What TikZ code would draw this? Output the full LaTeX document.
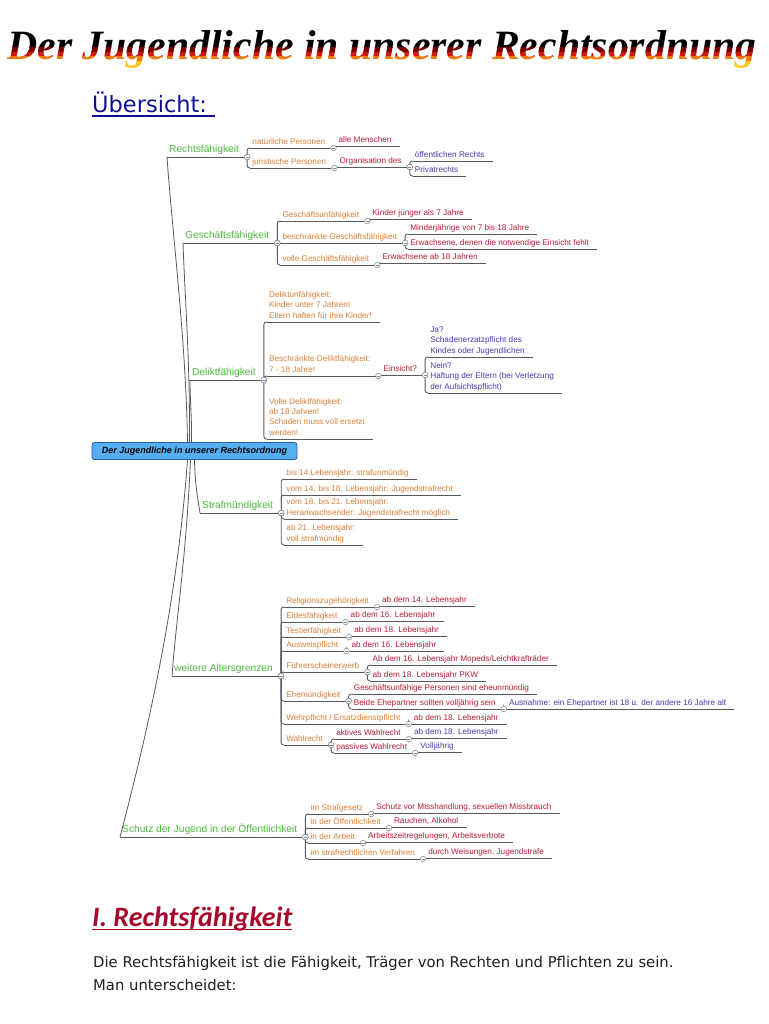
\documentclass[tikz,border=0pt]{standalone}
\usepackage{graphicx}
\usepackage{fontspec}
\setmainfont{Liberation Sans}
\newfontfamily\bannerfont{Liberation Serif}
\newfontfamily\pagefont{DejaVu Sans}
\newfontfamily\headingfont{Carlito}
\usepackage{tikz}
\definecolor{mmgreen}{RGB}{78,186,62}
\definecolor{mmorange}{RGB}{222,128,56}
\definecolor{mmred}{RGB}{188,28,58}
\definecolor{mmblue}{RGB}{72,62,178}
\definecolor{linegray}{RGB}{88,88,88}
\definecolor{knobgray}{RGB}{128,138,150}
\definecolor{rootfill}{RGB}{86,174,240}
\definecolor{rootedge}{RGB}{36,96,170}
\definecolor{headblue}{RGB}{16,16,150}
\definecolor{headred}{RGB}{166,8,42}
\definecolor{titdark}{RGB}{120,0,0}
\definecolor{titred}{RGB}{205,25,10}
\definecolor{titorange}{RGB}{240,120,10}
\definecolor{tityellow}{RGB}{250,200,30}
\newcommand{\mmfont}{\fontsize{8.2}{10.4}\selectfont}
\newcommand{\mmbig}{\fontsize{10.2}{12}\selectfont}
\tikzset{
  topic/.style={anchor=south west, inner xsep=2pt, inner ysep=0.4pt, align=left,
                execute at end node=\strut},
  uline/.style={draw=linegray, line width=0.9pt},
  link/.style={draw=linegray, line width=0.9pt, rounded corners=2.5pt},
  trunk/.style={draw=linegray, line width=0.8pt},
  knob/.style={circle, draw=knobgray, fill=white, line width=0.5pt, inner sep=0pt, minimum size=5.6pt},
  rootbox/.style={draw=rootedge, fill=rootfill, rounded corners=2.5pt, line width=0.8pt,
                  minimum width=205pt, minimum height=17pt, inner sep=1pt,
                  font=\fontsize{9}{11}\selectfont\bfseries\itshape},
  banner/.style={anchor=base, inner sep=0pt, font=\bannerfont\bfseries\itshape},
}
% a topic: name, position (left end of its line), colour, text
\newcommand{\mmtopic}[5][\mmfont]{%
  \node[topic, font=#1, text=#4] (#2) at (#3) {#5};
  \draw[uline] (#2.south west) -- ([xshift=6]#2.south east) coordinate (#2-e);}
% a subtopic hung on a parent: name, parent, y of its line, colour, text
\newcommand{\mmsub}[6][\mmfont]{%
  \path (#3-e) ++(3,0) coordinate (#2-x);
  \mmtopic[#1]{#2}{#2-x |- 0,#4}{#5}{#6}
  \draw[link] (#3-e) |- (#2.south west);
  \node[knob] (#3-k) at (#3-e) {};
  \draw[knobgray, line width=0.6pt] (#3-k.center) +(-1.6,0) -- +(1.6,0);}

\begin{document}
\begin{tikzpicture}[x=1pt,y=-1pt]
  \useasboundingbox (0,0) rectangle (768,1024);
  \fill[white] (0,0) rectangle (768,1024);

  % banner, coloured in bands
  \foreach \ytop/\ybot/\tc [count=\i] in {0/48/black, 48/53/titdark, 53/57/titred, 57/62/titorange, 62/90/tityellow}{
    \begin{scope}
      \clip (0,\ytop) rectangle (768,\ybot);
      \node[banner, text=\tc] (banner\i) at (382,60) {\resizebox{749pt}{!}{Der Jugendliche in unserer Rechtsordnung}};
    \end{scope}}

  \node[anchor=base west, inner sep=0pt, text=headblue,
        font=\pagefont\fontsize{22.5}{26}\selectfont] (uebersicht) at (92,113) {Übersicht:};
  \draw[headblue, line width=1.1pt] ([yshift=-3]uebersicht.base west) -- ([xshift=8,yshift=-3]uebersicht.base east);

  % central topic and main branches
  \node[rootbox] (root) at (194.5,451) {Der Jugendliche in unserer Rechtsordnung};
  \mmtopic[\mmbig]{recht}{167,157}{mmgreen}{Rechtsfähigkeit}
  \mmtopic[\mmbig]{gesch}{183,243}{mmgreen}{Geschäftsfähigkeit}
  \mmtopic[\mmbig]{delikt}{190,380}{mmgreen}{Deliktfähigkeit}
  \mmtopic[\mmbig]{straf}{200,513}{mmgreen}{Strafmündigkeit}
  \mmtopic[\mmbig]{alter}{172,676}{mmgreen}{weitere Altersgrenzen}
  \mmtopic[\mmbig]{schutz}{120,837}{mmgreen}{Schutz der Jugend in der Öffentlichkeit}
  \draw[trunk] ([xshift=-7]root.north) .. controls (186,340) and (172,230) .. (recht.south west);
  \draw[trunk] ([xshift=-5]root.north) .. controls (190,360) and (185,300) .. (gesch.south west);
  \draw[trunk] ([xshift=-3]root.north) .. controls (192,420) and (190,400) .. (delikt.south west);
  \draw[trunk] ([xshift=0]root.south) .. controls (195,485) and (198,500) .. (straf.south west);
  \draw[trunk] ([xshift=-4]root.south) .. controls (186,560) and (176,620) .. (alter.south west);
  \draw[trunk] ([xshift=-7]root.south) .. controls (176,620) and (140,760) .. (schutz.south west);

  % Rechtsfaehigkeit
  \mmsub{nat}{recht}{148}{mmorange}{natürliche Personen}
  \mmsub{alle}{nat}{146}{mmred}{alle Menschen}
  \mmsub{jur}{recht}{168}{mmorange}{juristische Personen}
  \mmsub{org}{jur}{167}{mmred}{Organisation des}
  \mmsub{oeff}{org}{161}{mmblue}{öffentlichen Rechts}
  \mmsub{priv}{org}{176}{mmblue}{Privatrechts}

  % Geschaeftsfaehigkeit
  \mmsub{gunf}{gesch}{221}{mmorange}{Geschäftsunfähigkeit}
  \mmsub{kind}{gunf}{219}{mmred}{Kinder jünger als 7 Jahre}
  \mmsub{gbes}{gesch}{243}{mmorange}{beschränkte Geschäftsfähigkeit}
  \mmsub{mind}{gbes}{234}{mmred}{Minderjährige von 7 bis 18 Jahre}
  \mmsub{erwn}{gbes}{249}{mmred}{Erwachsene, denen die notwendige Einsicht fehlt}
  \mmsub{gvol}{gesch}{265}{mmorange}{volle Geschäftsfähigkeit}
  \mmsub{erwa}{gvol}{263}{mmred}{Erwachsene ab 18 Jahren}

  % Deliktfaehigkeit
  \mmsub{dunf}{delikt}{322}{mmorange}{Deliktunfähigkeit:\\Kinder unter 7 Jahren!\\Eltern haften für ihre Kinder!}
  \mmsub{dbes}{delikt}{376}{mmorange}{Beschränkte Deliktfähigkeit:\\7 - 18 Jahre!}
  \mmsub{eins}{dbes}{375}{mmred}{Einsicht?}
  \mmsub{ja}{eins}{357}{mmblue}{Ja?\\Schadenerzatzpflicht des\\Kindes oder Jugendlichen}
  \mmsub{nein}{eins}{393}{mmblue}{Nein?\\Haftung der Eltern (bei Verletzung\\der Aufsichtspflicht)}
  \mmsub{dvol}{delikt}{439}{mmorange}{Volle Deliktfähigkeit:\\ab 18 Jahren!\\Schaden muss voll ersetzt\\werden!}

  % Strafmuendigkeit
  \mmsub{s14}{straf}{479}{mmorange}{bis 14.Lebensjahr: strafunmündig}
  \mmsub{s18}{straf}{495}{mmorange}{vom 14. bis 18. Lebensjahr: Jugendstrafrecht}
  \mmsub{s21}{straf}{519}{mmorange}{vom 18. bis 21. Lebensjahr:\\Heranwachsender: Jugendstrafrecht möglich}
  \mmsub{sab}{straf}{545}{mmorange}{ab 21. Lebensjahr:\\voll strafmündig}

  % weitere Altersgrenzen
  \mmsub{rel}{alter}{607}{mmorange}{Religionszugehörigkeit}
  \mmsub{rel1}{rel}{606}{mmred}{ab dem 14. Lebensjahr}
  \mmsub{eid}{alter}{622}{mmorange}{Eidesfähigkeit}
  \mmsub{eid1}{eid}{621}{mmred}{ab dem 16. Lebensjahr}
  \mmsub{test}{alter}{637}{mmorange}{Testierfähigkeit}
  \mmsub{test1}{test}{636}{mmred}{ab dem 18. Lebensjahr}
  \mmsub{ausw}{alter}{651}{mmorange}{Ausweispflicht}
  \mmsub{ausw1}{ausw}{651}{mmred}{ab dem 16. Lebensjahr}
  \mmsub{fuehr}{alter}{672}{mmorange}{Führerscheinerwerb}
  \mmsub{fuehr1}{fuehr}{665}{mmred}{Ab dem 16. Lebensjahr Mopeds/Leichtkrafträder}
  \mmsub{fuehr2}{fuehr}{681}{mmred}{ab dem 18. Lebensjahr PKW}
  \mmsub{ehe}{alter}{701}{mmorange}{Ehemündigkeit}
  \mmsub{ehe1}{ehe}{694}{mmred}{Geschäftsunfähige Personen sind eheunmündig}
  \mmsub{ehe2}{ehe}{709}{mmred}{Beide Ehepartner sollten volljährig sein}
  \mmsub{ehe3}{ehe2}{709}{mmblue}{Ausnahme: ein Ehepartner ist 18 u. der andere 16 Jahre alt}
  \mmsub{wehr}{alter}{724}{mmorange}{Wehrpflicht / Ersatzdienstpflicht}
  \mmsub{wehr1}{wehr}{724}{mmred}{ab dem 18. Lebensjahr}
  \mmsub{wahl}{alter}{745}{mmorange}{Wahlrecht}
  \mmsub{akt}{wahl}{739}{mmred}{aktives Wahlrecht}
  \mmsub{akt1}{akt}{738}{mmblue}{ab dem 18. Lebensjahr}
  \mmsub{pas}{wahl}{753}{mmred}{passives Wahlrecht}
  \mmsub{pas1}{pas}{752}{mmblue}{Volljährig}

  % Schutz der Jugend
  \mmsub{sg}{schutz}{814}{mmorange}{im Strafgesetz}
  \mmsub{sg1}{sg}{813}{mmred}{Schutz vor Misshandlung, sexuellen Missbrauch}
  \mmsub{oef}{schutz}{828}{mmorange}{in der Öffentlichkeit}
  \mmsub{oef1}{oef}{827}{mmred}{Rauchen, Alkohol}
  \mmsub{arb}{schutz}{843}{mmorange}{in der Arbeit}
  \mmsub{arb1}{arb}{842}{mmred}{Arbeitszeitregelungen, Arbeitsverbote}
  \mmsub{stv}{schutz}{859}{mmorange}{im strafrechtlichen Verfahren}
  \mmsub{stv1}{stv}{858}{mmred}{durch Weisungen, Jugendstrafe}

  % chapter start below the map
  \node[anchor=base west, inner sep=0pt, text=headred,
        font=\headingfont\bfseries\itshape\fontsize{28}{32}\selectfont] (kapitel) at (92,926) {I. Rechtsfähigkeit};
  \draw[headred, line width=1.4pt] ([yshift=-3.5]kapitel.base west) -- ([yshift=-3.5]kapitel.base east);
  \node[anchor=base west, inner sep=0pt, text=black!88, font=\pagefont\fontsize{14.8}{18}\selectfont] (absatz1) at (93,967)
    {Die Rechtsfähigkeit ist die Fähigkeit, Träger von Rechten und Pflichten zu sein.};
  \node[anchor=base west, inner sep=0pt, text=black!88, font=\pagefont\fontsize{14.8}{18}\selectfont] (absatz2) at (93,990)
    {Man unterscheidet:};
\end{tikzpicture}
\end{document}
